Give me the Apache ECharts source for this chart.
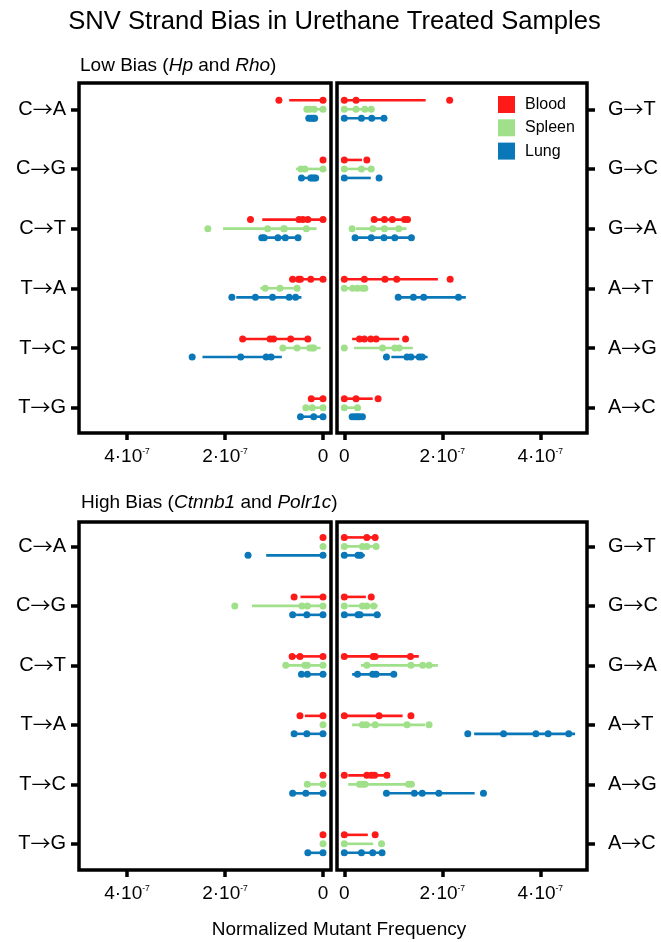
<!DOCTYPE html>
<html>
<head>
<meta charset="utf-8">
<script src="https://cdn.jsdelivr.net/npm/echarts@6/dist/echarts.min.js"></script>
<style>html,body{margin:0;padding:0;background:#fff}#c{width:661px;height:942px}</style>
</head>
<body>
<div id="c"></div>
<script>
// values are in units of 1e-7 (normalized mutant frequency)
const UNIT = 1e-7;
const catLeft = ['C→A','C→G','C→T','T→A','T→C','T→G'];
const catRight = ['G→T','G→C','G→A','A→T','A→G','A→C'];
const tissues = ['Blood','Spleen','Lung'];
const xTicks = [0, 2, 4];

// ---- Low bias (Hp and Rho) ----
const lowLeftBlood  = [[0.90,0],[0],[1.48,0.49,0.41,0.31,0],[0.62,0.50,0.46,0.25,0],[1.64,1.08,1.01,0.66,0.31],[0.24,0]];
const lowLeftBloodBar  = [[0,0.69],null,[0,1.24],[0,0.69],[0.31,1.58],[0,0.24]];
const lowLeftSpleen = [[0.33,0.27,0.18,0],[0.45,0.37,0],[2.35,1.13,0.80,0.79,0.34],[1.18,0.88,0.53],[0.82,0.53,0.27,0.22,0.19],[0.35,0.22,0]];
const lowLeftSpleenBar = [[0,0.37],[0,0.55],[0.13,2.04],[0.49,1.28],[0.05,0.86],[0,0.35]];
const lowLeftLung   = [[0.29,0.24,0.20,0.17],[0.44,0.25,0.22,0.18,0.15],[1.25,1.20,0.92,0.77,0.51],[1.86,1.38,1.03,0.69,0.56],[2.67,1.68,1.16,1.06],[0.46,0.19,0]];
const lowLeftLungBar   = [[0.13,0.34],[0.10,0.44],[0.49,1.30],[0.44,1.77],[0.84,2.46],[0,0.46]];

const lowRightBlood  = [[0,0.24,2.15],[0,0.46],[0.61,0.82,0.98,1.23,1.29],[0,0.41,0.83,1.07,2.16],[0.31,0.41,0.54,0.65,1.25],[0,0.24,0.69]];
const lowRightBloodBar  = [[0,1.66],[0,0.36],[0.58,1.33],[0,1.91],[0.16,1.12],[0,0.58]];
const lowRightSpleen = [[0,0.24,0.42,0.55],[0,0.35,0.55],[0.16,0.58,0.82,1.11],[0,0.17,0.27,0.37,0.42],[0,0.78,1.03,1.12],[0,0.27]];
const lowRightSpleenBar = [[0,0.59],[0,0.55],[0.24,1.27],[0,0.45],[0.20,1.40],[0,0.27]];
const lowRightLung   = [[0,0.35,0.56,0.81],[0,0.71],[0.22,0.55,0.81,1.03,1.37],[1.10,1.41,1.62,2.33],[0.86,1.28,1.36,1.53,1.59],[0.16,0.22,0.27,0.31,0.37]];
const lowRightLungBar   = [[0,0.84],[0,0.54],[0.20,1.38],[1.05,2.48],[0.96,1.70],[0.12,0.42]];

// ---- High bias (Ctnnb1 and Polr1c) ----
const highLeftBlood  = [[0],[0.59,0],[0.63,0.47,0],[0.47,0],[0],[0]];
const highLeftBloodBar  = [null,[0,0.46],[0,0.63],[0,0.37],null,null];
const highLeftSpleen = [[0],[1.80,0.43,0.32,0],[0.76,0.37,0.32,0],[0],[0.32,0],[0]];
const highLeftSpleenBar = [null,[0,1.45],[0,0.76],null,[0,0.32],null];
const highLeftLung   = [[1.53,0],[0.62,0.33,0],[0.44,0.32,0],[0.59,0.33,0],[0.62,0.35,0],[0.31,0]];
const highLeftLungBar   = [[0,1.16],[0,0.55],[0,0.44],[0,0.59],[0,0.62],[0,0.31]];

const highRightBlood  = [[0,0.46,0.63],[0,0.55],[0,0.59,0.63,1.35],[0,0.71,1.36],[0,0.46,0.55,0.62,0.87],[0,0.63]];
const highRightBloodBar  = [[0,0.63],[0,0.44],[0,1.52],[0,1.19],[0.08,0.87],[0,0.48]];
const highRightSpleen = [[0,0.37,0.46,0.65],[0,0.37,0.46,0.60],[0.46,1.36,1.60,1.73],[0.37,0.45,0.63,1.28,1.73],[0.31,0.37,0.42,1.31,1.37],[0,0.76]];
const highRightSpleenBar = [[0,0.65],[0.08,0.68],[0.34,1.91],[0.16,1.65],[0.08,1.42],[0,0.59]];
const highRightLung   = [[0,0.28,0.33],[0,0.28,0.32,0.67],[0.27,0.58,0.65,1.01],[2.52,3.25,3.91,4.16,4.58],[0.86,1.43,1.59,1.93,2.84],[0,0.35,0.58,0.77]];
const highRightLungBar   = [[0,0.42],[0,0.74],[0.16,1.01],[2.65,4.71],[0.86,2.66],[0,0.77]];

const colors = {Blood:'#ff1a1a', Spleen:'#a1e08a', Lung:'#0a78b8'};
const offsets = {Blood:-0.151, Spleen:0, Lung:0.151};
const FONT = '"Liberation Sans", Arial, Helvetica, sans-serif';
const ARROW_FONT = '"Noto Sans CJK SC", "DejaVu Sans", sans-serif';

const panels = [
  {grid:0, cats:catLeft,  side:'left',  dots:[lowLeftBlood,lowLeftSpleen,lowLeftLung],   bars:[lowLeftBloodBar,lowLeftSpleenBar,lowLeftLungBar]},
  {grid:1, cats:catRight, side:'right', dots:[lowRightBlood,lowRightSpleen,lowRightLung], bars:[lowRightBloodBar,lowRightSpleenBar,lowRightLungBar]},
  {grid:2, cats:catLeft,  side:'left',  dots:[highLeftBlood,highLeftSpleen,highLeftLung], bars:[highLeftBloodBar,highLeftSpleenBar,highLeftLungBar]},
  {grid:3, cats:catRight, side:'right', dots:[highRightBlood,highRightSpleen,highRightLung], bars:[highRightBloodBar,highRightSpleenBar,highRightLungBar]}
];

const grids = [
  {left:79,  top:83,  width:252, height:350},
  {left:337, top:83,  width:250, height:350},
  {left:79,  top:522, width:252, height:348},
  {left:337, top:522, width:250, height:348}
].map(g => Object.assign(g, {show:true, borderColor:'#000', borderWidth:3.5, containLabel:false}));

const yRange = [[-0.44,5.424],[-0.44,5.424],[-0.41,5.44],[-0.41,5.44]];

const xAxes = panels.map(p => ({
  type:'value', gridIndex:p.grid,
  inverse: p.side==='left',
  min: (p.side==='left' ? -0.163 : -0.149) * UNIT,
  max: (p.side==='left' ? 4.98 : 4.953) * UNIT,
  splitLine:{show:false}, axisLine:{show:false, onZero:false},
  axisTick:{show:true, length:7, lineStyle:{color:'#000', width:3.5}, customValues:xTicks.map(v=>v*UNIT)},
  axisLabel:{show:true, margin:14, customValues:xTicks.map(v=>v*UNIT),
    formatter: v => { const n = Math.round(v/UNIT); return n===0 ? '{n|0}' : '{n|'+n+'·10}{s|-7}'; },
    rich:{n:{fontSize:19, color:'#000', fontFamily:FONT, lineHeight:20}, s:{fontSize:8.5, color:'#000', fontFamily:FONT, verticalAlign:'top', lineHeight:13}}
  }
}));

const yAxes = panels.map(p => ({
  type:'value', gridIndex:p.grid, inverse:true, position:p.side,
  min: yRange[p.grid][0], max: yRange[p.grid][1],
  splitLine:{show:false}, axisLine:{show:false, onZero:false},
  axisTick:{show:true, length:8, lineStyle:{color:'#000', width:3.5}, customValues:[0,1,2,3,4,5]},
  axisLabel:{show:true, margin:p.side==='left'?13:21, customValues:[0,1,2,3,4,5],
    formatter: v => { const s = p.cats[Math.round(v)]; return '{l|'+s[0]+'}{a|→}{l|'+s[2]+'}'; },
    rich:{l:{fontSize:20, color:'#000', fontFamily:FONT}, a:{fontSize:20, color:'#000', fontFamily:ARROW_FONT}}}
}));

const series = [];
panels.forEach((p, pi) => {
  tissues.forEach((t, ti) => {
    const barData = [];
    p.bars[ti].forEach((b, row) => { if (b) barData.push([b[0]*UNIT, b[1]*UNIT, row + offsets[t]]); });
    series.push({
      type:'custom', name:t+' range', xAxisIndex:pi, yAxisIndex:pi, z:2,
      encode:{x:[0,1], y:2}, data:barData, silent:true,
      renderItem:(params, api) => {
        const y = api.value(2);
        const a = api.coord([api.value(0), y]);
        const b = api.coord([api.value(1), y]);
        return {type:'line', shape:{x1:a[0], y1:a[1], x2:b[0], y2:b[1]}, style:{stroke:colors[t], lineWidth:2.6}};
      }
    });
  });
  tissues.forEach((t, ti) => {
    const pts = [];
    p.dots[ti].forEach((vals, row) => vals.forEach(v => pts.push([v*UNIT, row + offsets[t]])));
    series.push({
      type:'scatter', name:t, xAxisIndex:pi, yAxisIndex:pi, z:3,
      symbol:'circle', symbolSize:7, itemStyle:{color:colors[t], opacity:1},
      data:pts, silent:true
    });
  });
});

const italicRich = {
  r:{fontSize:19, color:'#000', fontFamily:FONT, fontWeight:'normal'},
  i:{fontSize:19, color:'#000', fontFamily:FONT, fontWeight:'normal', fontStyle:'italic'}
};

const option = {
  backgroundColor:'#fff',
  animation:false,
  legend:{
    orient:'vertical', left:493, top:91, itemWidth:17, itemHeight:17, itemGap:6.3,
    icon:'rect', data:tissues, selectedMode:false,
    textStyle:{fontSize:16, color:'#000', fontFamily:FONT, padding:[0,0,0,5]}
  },
  graphic:[
    {type:'text', x:334.5, y:22, style:{text:'SNV Strand Bias in Urethane Treated Samples', fontSize:25.6, fontFamily:FONT, fill:'#000', align:'center', verticalAlign:'middle'}},
    {type:'text', x:80, y:66, style:{text:'{r|Low Bias (}{i|Hp}{r| and }{i|Rho}{r|)}', rich:italicRich, verticalAlign:'middle'}},
    {type:'text', x:81, y:503, style:{text:'{r|High Bias (}{i|Ctnnb1}{r| and }{i|Polr1c}{r|)}', rich:italicRich, verticalAlign:'middle'}},
    {type:'text', x:339, y:930, style:{text:'Normalized Mutant Frequency', fontSize:19, fontFamily:FONT, fill:'#000', align:'center', verticalAlign:'middle'}}
  ],
  grid:grids,
  xAxis:xAxes,
  yAxis:yAxes,
  series:series
};

const chart = echarts.init(document.getElementById('c'), null, {renderer:'canvas'});
chart.setOption(option);
</script>
</body>
</html>
